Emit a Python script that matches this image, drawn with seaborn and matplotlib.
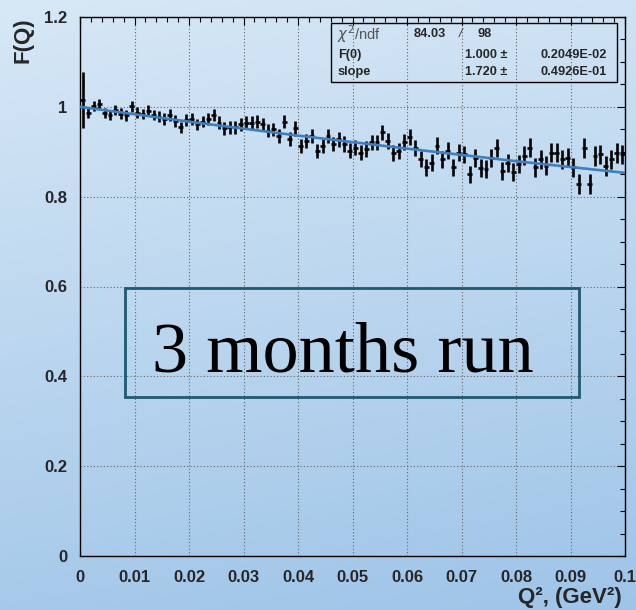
import numpy as np
import pandas as pd
import matplotlib
matplotlib.use("Agg")
import matplotlib.pyplot as plt
import seaborn as sns
from matplotlib.patches import Rectangle
from matplotlib.ticker import MultipleLocator, FixedLocator

# ---------------- data ----------------
q2_centers = np.round(np.arange(100) * 0.001 + 0.0005, 4)
F_values = [
    1.015, 0.987, 1.002, 1.006, 0.987, 0.982, 0.993, 0.985, 0.981, 1.001,
    0.987, 0.984, 0.991, 0.982, 0.978, 0.973, 0.982, 0.969, 0.954, 0.970,
    0.973, 0.961, 0.967, 0.973, 0.982, 0.965, 0.952, 0.954, 0.954, 0.961,
    0.965, 0.965, 0.967, 0.961, 0.947, 0.950, 0.935, 0.967, 0.928, 0.952,
    0.913, 0.924, 0.935, 0.902, 0.913, 0.935, 0.917, 0.928, 0.917, 0.902,
    0.909, 0.898, 0.906, 0.921, 0.921, 0.943, 0.924, 0.898, 0.902, 0.921,
    0.932, 0.909, 0.883, 0.865, 0.876, 0.913, 0.883, 0.902, 0.865, 0.898,
    0.894, 0.850, 0.887, 0.863, 0.861, 0.887, 0.909, 0.857, 0.876, 0.854,
    0.872, 0.891, 0.909, 0.865, 0.883, 0.869, 0.898, 0.898, 0.883, 0.887,
    0.865, 0.828, 0.909, 0.828, 0.891, 0.894, 0.869, 0.883, 0.898, 0.894,
]
F_errors = [
    0.062, 0.011, 0.011, 0.011, 0.011, 0.011, 0.011, 0.012, 0.012, 0.012,
    0.012, 0.012, 0.012, 0.012, 0.012, 0.013, 0.013, 0.013, 0.013, 0.013,
    0.013, 0.013, 0.013, 0.014, 0.014, 0.014, 0.014, 0.014, 0.014, 0.014,
    0.014, 0.015, 0.015, 0.015, 0.015, 0.015, 0.015, 0.015, 0.015, 0.016,
    0.016, 0.016, 0.016, 0.016, 0.016, 0.016, 0.016, 0.017, 0.017, 0.017,
    0.017, 0.017, 0.017, 0.017, 0.017, 0.017, 0.018, 0.018, 0.018, 0.018,
    0.018, 0.018, 0.018, 0.018, 0.019, 0.019, 0.019, 0.019, 0.019, 0.019,
    0.019, 0.019, 0.020, 0.020, 0.020, 0.020, 0.020, 0.020, 0.020, 0.020,
    0.020, 0.021, 0.021, 0.021, 0.021, 0.021, 0.021, 0.021, 0.021, 0.021,
    0.021, 0.022, 0.022, 0.022, 0.022, 0.022, 0.022, 0.022, 0.022, 0.022,
]
fit_q2 = [0.0, 0.02, 0.04, 0.06, 0.08, 0.1]
fit_F = [1.000, 0.967, 0.936, 0.907, 0.879, 0.853]

x_ticks = [0.0, 0.01, 0.02, 0.03, 0.04, 0.05, 0.06, 0.07, 0.08, 0.09, 0.1]
x_tick_labels = ["0", "0.01", "0.02", "0.03", "0.04", "0.05", "0.06", "0.07", "0.08", "0.09", "0.1"]
y_ticks = [0.0, 0.2, 0.4, 0.6, 0.8, 1.0, 1.2]
y_tick_labels = ["0", "0.2", "0.4", "0.6", "0.8", "1", "1.2"]

stat_names = [r"$\chi^2$/ndf", "F(0)", "slope"]
stat_values = ["84.03", "1.000 \u00b1", "1.720 \u00b1"]
stat_errors = ["98", "0.2049E-02", "0.4926E-01"]

annotation = "3 months run"
x_label = "Q\u00b2, (GeV\u00b2)"
y_label = "F(Q)"

df = pd.DataFrame({"Q2": q2_centers, "F": F_values, "err": F_errors})
fit_df = pd.DataFrame({"Q2": fit_q2, "F": fit_F})

# ---------------- style ----------------
sns.set_theme(style="white")
plt.rcParams["font.family"] = ["Liberation Sans", "DejaVu Sans"]

W, H = 636, 610
fig = plt.figure(figsize=(W / 100, H / 100), dpi=100)


def fx(px):
    return px / W


def fy(py):
    return 1 - py / H


# gradient background
bg = fig.add_axes([0, 0, 1, 1], zorder=-10)
top = np.array([0.845, 0.910, 0.965])
bot = np.array([0.620, 0.770, 0.910])
yy = np.linspace(0, 1, 300)[:, None]
xx = np.linspace(0, 1, 300)[None, :]
t = np.clip(0.85 * yy + 0.15 * xx, 0, 1)
grad = top[None, None, :] * (1 - t[..., None]) + bot[None, None, :] * t[..., None]
bg.imshow(grad, aspect="auto", extent=[0, 1, 0, 1], origin="upper")
bg.set_xlim(0, 1)
bg.set_ylim(0, 1)
bg.axis("off")

ax = fig.add_axes([fx(80), fy(556), (625 - 80) / W, (556 - 17) / H])
ax.set_facecolor("none")

ax.errorbar(df["Q2"], df["F"], yerr=df["err"], xerr=0.00045, fmt="none",
            ecolor="black", elinewidth=1.9, capsize=0, zorder=3)
sns.lineplot(data=fit_df, x="Q2", y="F", ax=ax, color="#3a80c2",
             linewidth=1.9, zorder=4, sort=True, errorbar=None)

ax.set_xlim(0, 0.1)
ax.set_ylim(0, 1.2)
ax.xaxis.set_major_locator(FixedLocator(x_ticks))
ax.yaxis.set_major_locator(FixedLocator(y_ticks))
ax.xaxis.set_minor_locator(MultipleLocator(0.002))
ax.yaxis.set_minor_locator(MultipleLocator(0.05))
ax.set_xticklabels(x_tick_labels, fontsize=12, fontweight="bold")
ax.set_yticklabels(y_tick_labels, fontsize=12, fontweight="bold")
ax.tick_params(which="both", direction="in", top=True, right=True, color="black")
ax.tick_params(which="major", length=6, width=0.8)
ax.tick_params(which="minor", length=3.5, width=0.8)
ax.tick_params(axis="x", which="major", pad=10)
ax.tick_params(axis="y", which="major", pad=9)
ax.grid(True, which="major", color="#666666", linestyle=(0, (1, 2)), linewidth=0.8)
ax.set_xlabel("")
ax.set_ylabel("")
for s in ax.spines.values():
    s.set_color("black")
    s.set_linewidth(1.0)

# axis titles
fig.text(fx(622), fy(597), x_label, ha="right", va="center",
         fontsize=16, fontweight="bold")
fig.text(fx(23), fy(17), y_label, ha="center", va="top", rotation=90,
         fontsize=16, fontweight="bold")

# stats box
fig.patches.append(Rectangle((fx(331), fy(82)), (617 - 331) / W, (82 - 23.5) / H,
                             transform=fig.transFigure, fill=False,
                             edgecolor="black", linewidth=1.0, zorder=5))
row_y = [34, 55, 72]
for i in range(3):
    if i == 0:
        fig.text(fx(337), fy(row_y[i]), stat_names[i], ha="left", va="center",
                 fontsize=10.5, color="#555555")
        fig.text(fx(414), fy(row_y[i]), stat_values[i], ha="left", va="center",
                 fontsize=9.2, fontweight="bold")
        fig.text(fx(459), fy(row_y[i]), "/", ha="left", va="center",
                 fontsize=9.2, color="#333333", style="italic")
        fig.text(fx(477), fy(row_y[i]), stat_errors[i], ha="left", va="center",
                 fontsize=9.2, fontweight="bold")
    else:
        fig.text(fx(338), fy(row_y[i]), stat_names[i], ha="left", va="center",
                 fontsize=9.2, fontweight="bold")
        fig.text(fx(507), fy(row_y[i]), stat_values[i], ha="right", va="center",
                 fontsize=9.2, fontweight="bold")
        fig.text(fx(607), fy(row_y[i]), stat_errors[i], ha="right", va="center",
                 fontsize=9.2, fontweight="bold")

# annotation box
fig.patches.append(Rectangle((fx(125), fy(397.3)), (579.3 - 125) / W, (397.3 - 288.3) / H,
                             transform=fig.transFigure, fill=False,
                             edgecolor="#1e5a70", linewidth=2.0, zorder=5))
fig.text(fx(342.5), fy(371), annotation, ha="center", va="baseline",
         fontsize=52, family=["Liberation Serif", "DejaVu Serif"], color="black")

fig.savefig("out.png", dpi=100)
